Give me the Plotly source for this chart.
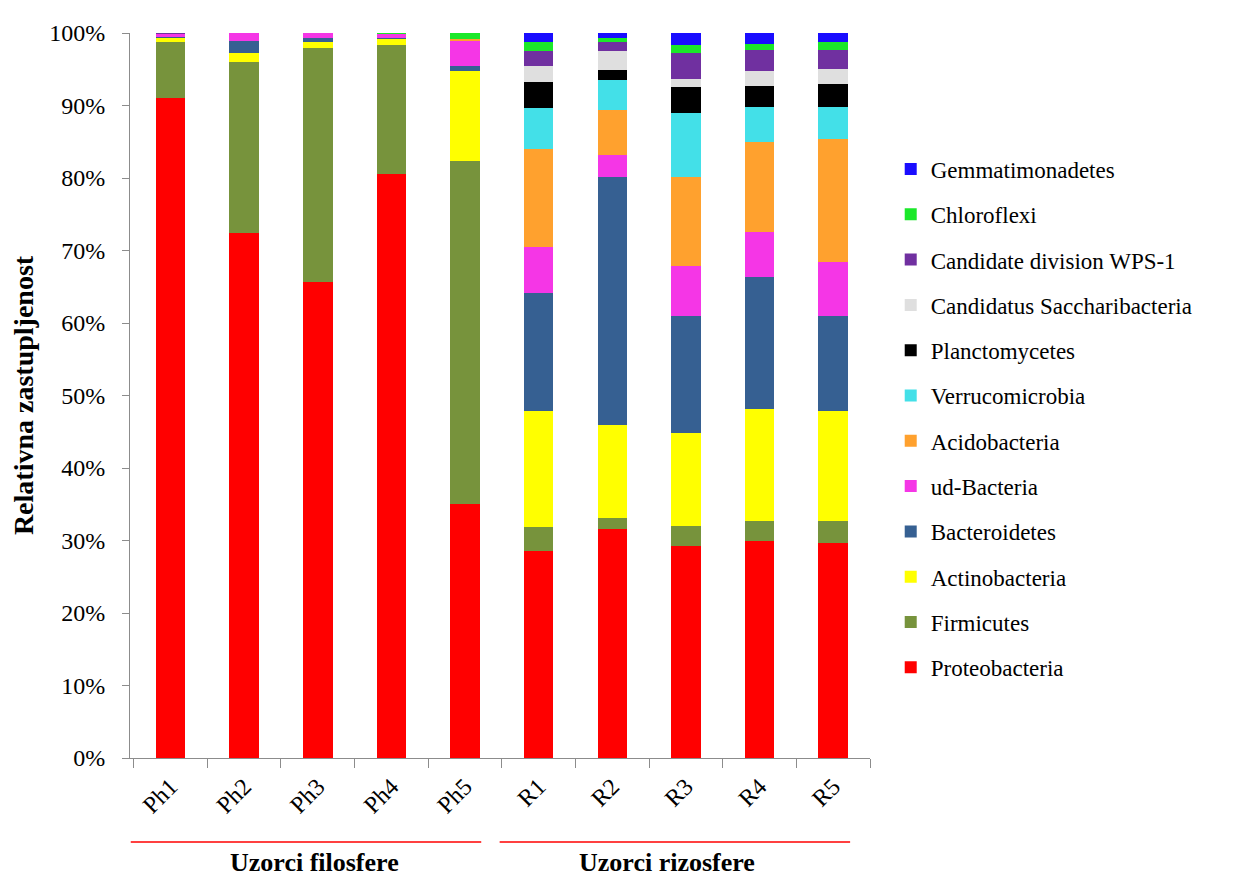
import plotly.graph_objects as go

samples = ["Ph1", "Ph2", "Ph3", "Ph4", "Ph5", "R1", "R2", "R3", "R4", "R5"]

phyla = [
    "Proteobacteria", "Firmicutes", "Actinobacteria", "Bacteroidetes", "ud-Bacteria",
    "Acidobacteria", "Verrucomicrobia", "Planctomycetes", "Candidatus Saccharibacteria",
    "Candidate division WPS-1", "Chloroflexi", "Gemmatimonadetes",
]

proteobacteria   = [91.1, 72.4, 65.6, 80.6, 35.1, 28.5, 31.6, 29.2, 30.0, 29.7]
firmicutes       = [7.7, 23.6, 32.3, 17.8, 47.3, 3.3, 1.5, 2.8, 2.7, 3.0]
actinobacteria   = [0.6, 1.3, 0.9, 0.8, 12.4, 16.1, 12.9, 12.8, 15.4, 15.2]
bacteroidetes    = [0.1, 1.6, 0.5, 0.1, 0.6, 16.2, 34.2, 16.2, 18.3, 13.0]
ud_bacteria      = [0.4, 1.1, 0.7, 0.6, 3.5, 6.4, 3.0, 6.9, 6.2, 7.5]
acidobacteria    = [0.0, 0.0, 0.0, 0.0, 0.3, 13.5, 6.2, 12.3, 12.3, 17.0]
verrucomicrobia  = [0.0, 0.0, 0.0, 0.0, 0.0, 5.7, 4.1, 8.8, 4.9, 4.4]
planctomycetes   = [0.0, 0.0, 0.0, 0.0, 0.0, 3.5, 1.4, 3.5, 2.9, 3.1]
saccharibacteria = [0.0, 0.0, 0.0, 0.0, 0.0, 2.3, 2.6, 1.2, 2.1, 2.2]
wps1             = [0.1, 0.0, 0.0, 0.0, 0.0, 2.0, 1.2, 3.6, 2.8, 2.5]
chloroflexi      = [0.0, 0.0, 0.0, 0.1, 0.8, 1.3, 0.6, 1.1, 0.9, 1.1]
gemmatimonadetes = [0.0, 0.0, 0.0, 0.0, 0.0, 1.2, 0.7, 1.6, 1.5, 1.3]

series = [proteobacteria, firmicutes, actinobacteria, bacteroidetes, ud_bacteria,
          acidobacteria, verrucomicrobia, planctomycetes, saccharibacteria,
          wps1, chloroflexi, gemmatimonadetes]

colors = ["#FF0000", "#77933C", "#FFFF00", "#366092", "#F536E6", "#FFA12E",
          "#43E0E8", "#000000", "#DFDFDF", "#7030A0", "#1BE82A", "#1A0DFF"]

group_labels = ["Uzorci filosfere", "Uzorci rizosfere"]

FONT = "Liberation Serif, Times New Roman, serif"
AXIS_COLOR = "#8C8C8C"

fig = go.Figure()
n = len(phyla)
for i, (name, vals, col) in enumerate(zip(phyla, series, colors)):
    fig.add_trace(go.Bar(
        x=samples, y=vals, name=name, marker_color=col,
        marker_line_width=0, legendgroup=name, legendrank=n - i, width=0.4,
    ))

fig.update_layout(
    barmode="stack",
    width=1227, height=873,
    margin=dict(l=120, r=365, t=17, b=123),
    plot_bgcolor="white", paper_bgcolor="white",
    font=dict(family=FONT, color="black", size=22),
    showlegend=True,
    legend=dict(
        x=1.028, xanchor="left", y=0.842, yanchor="top",
        traceorder="grouped", tracegroupgap=12.4,
        font=dict(family=FONT, size=23, color="black"),
        itemsizing="constant",
    ),
    xaxis=dict(
        showline=True, linecolor=AXIS_COLOR, linewidth=1,
        ticks="outside", tickson="boundaries", ticklen=9, tickcolor=AXIS_COLOR,
        tickangle=-45, tickfont=dict(family=FONT, size=24),
        ticklabelstandoff=4,
        showgrid=False,
    ),
    yaxis=dict(
        range=[0, 100], dtick=10, ticksuffix="%",
        showline=True, linecolor=AXIS_COLOR, linewidth=1,
        ticks="outside", ticklen=7, tickcolor=AXIS_COLOR,
        tickfont=dict(family=FONT, size=24),
        ticklabelstandoff=12,
        showgrid=False, zeroline=False,
        title=dict(text="<b>Relativna zastupljenost</b>",
                   font=dict(family=FONT, size=28), standoff=10),
    ),
)

# group separator lines and labels under the x axis
fig.add_shape(type="line", xref="x", yref="paper", x0=-0.54, x1=4.22, y0=-0.116, y1=-0.116,
              line=dict(color="#FF0000", width=1.5))
fig.add_shape(type="line", xref="x", yref="paper", x0=4.47, x1=9.23, y0=-0.116, y1=-0.116,
              line=dict(color="#FF0000", width=1.5))
fig.add_annotation(x=1.95, xref="x", y=-0.144, yref="paper", text="<b>%s</b>" % group_labels[0],
                   showarrow=False, font=dict(family=FONT, size=26), yanchor="middle")
fig.add_annotation(x=6.74, xref="x", y=-0.144, yref="paper", text="<b>%s</b>" % group_labels[1],
                   showarrow=False, font=dict(family=FONT, size=26), yanchor="middle")

fig.write_html("out.html")
